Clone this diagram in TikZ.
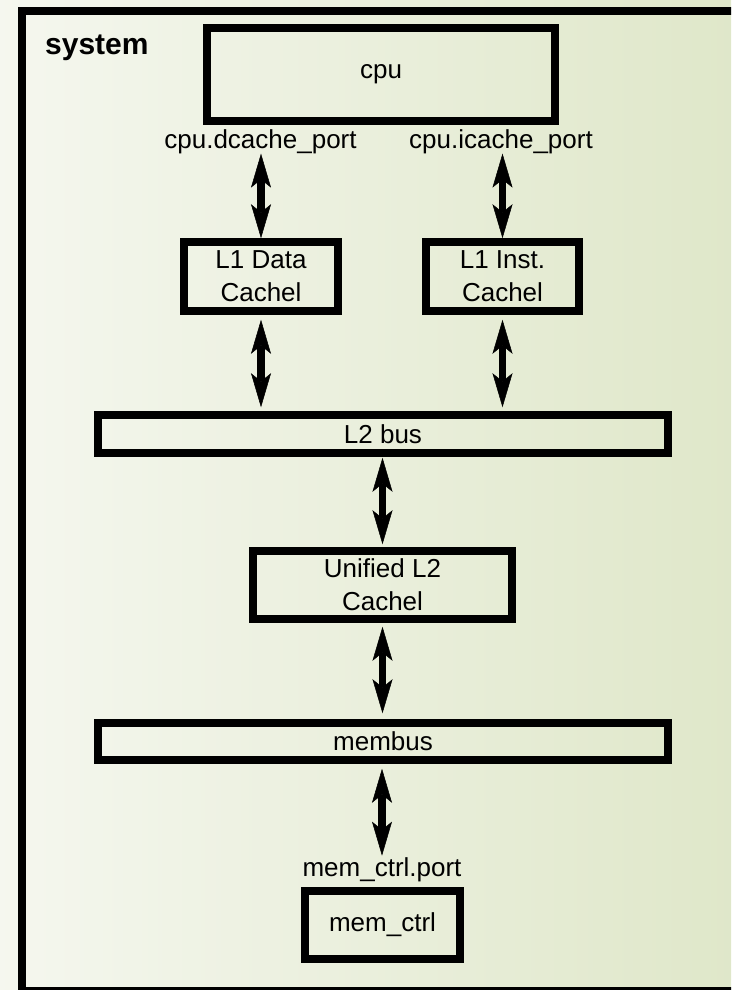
\documentclass[tikz,border=0pt]{standalone}
\usepackage{fontspec}
\setmainfont{Liberation Sans}
\usetikzlibrary{arrows.meta}
\definecolor{bgleft}{HTML}{F5F7EF}
\definecolor{bgright}{HTML}{DFE7C9}

\begin{document}
\begin{tikzpicture}[x=1pt,y=-1pt,
  box/.style={draw=black, line width=7.5pt, inner sep=0pt, align=center,
    font=\fontsize{26}{33}\selectfont},
  port/.style={inner sep=0pt, font=\fontsize{26}{33}\selectfont},
  tipshape/.style={},
  biarrow/.style={line width=7.5pt,
    {Stealth[length=34pt,width=20pt,inset=8pt,line width=0.5pt]}-{Stealth[length=34pt,width=20pt,inset=8pt,line width=0.5pt]}}
]
\useasboundingbox (0,0) rectangle (731,990);
\clip (0,0) rectangle (731,990);

% background and the enclosing system frame
\shade[left color=bgleft, right color=bgright] (-5,-5) rectangle (740,995);
\draw[line width=8pt] (22,11) rectangle (780,991);
\node[anchor=base west, inner sep=0pt, font=\bfseries\fontsize{30}{36}\selectfont] (sys) at (45,55) {system};

% components
\node[box, minimum width=348pt, minimum height=93pt] (cpu) at (381,74.5) {cpu};
\node[box, minimum width=154pt, minimum height=69pt] (l1d) at (261,276.5) {L1 Data\\Cachel};
\node[box, minimum width=153pt, minimum height=69pt] (l1i) at (502.5,276.5) {L1 Inst.\\Cachel};
\node[box, minimum width=570pt, minimum height=38pt] (l2bus) at (383,434) {L2 bus};
\node[box, minimum width=259pt, minimum height=68pt] (l2) at (382.5,585) {Unified L2\\Cachel};
\node[box, minimum width=570pt, minimum height=37pt] (membus) at (383,741.5) {membus};
\node[box, minimum width=155pt, minimum height=68pt] (mem) at (382.5,925) {mem\_ctrl};

% port labels
\node[port, anchor=base] (dport) at (260.5,148) {cpu.dcache\_port};
\node[port, anchor=base] (iport) at (501,148) {cpu.icache\_port};
\node[port, anchor=base] (mport) at (382,876.7) {mem\_ctrl.port};

% connections
\draw[biarrow] (dport.south -| l1d.north) -- (l1d.north);
\draw[biarrow] (iport.south -| l1i.north) -- (l1i.north);
\draw[biarrow, shorten <=5pt, shorten >=4pt] (l1d.south) -- (l1d.south |- l2bus.north);
\draw[biarrow, shorten <=5pt, shorten >=4pt] (l1i.south) -- (l1i.south |- l2bus.north);
\draw[biarrow, shorten <=1pt, shorten >=3pt] (l2bus.south -| l2.north) -- (l2.north);
\draw[biarrow, shorten <=4pt, shorten >=6pt] (l2.south) -- (l2.south |- membus.north);
\draw[biarrow, shorten <=5pt, shorten >=2pt] (membus.south -| mport.north) -- (mport.north);
\end{tikzpicture}
\end{document}
